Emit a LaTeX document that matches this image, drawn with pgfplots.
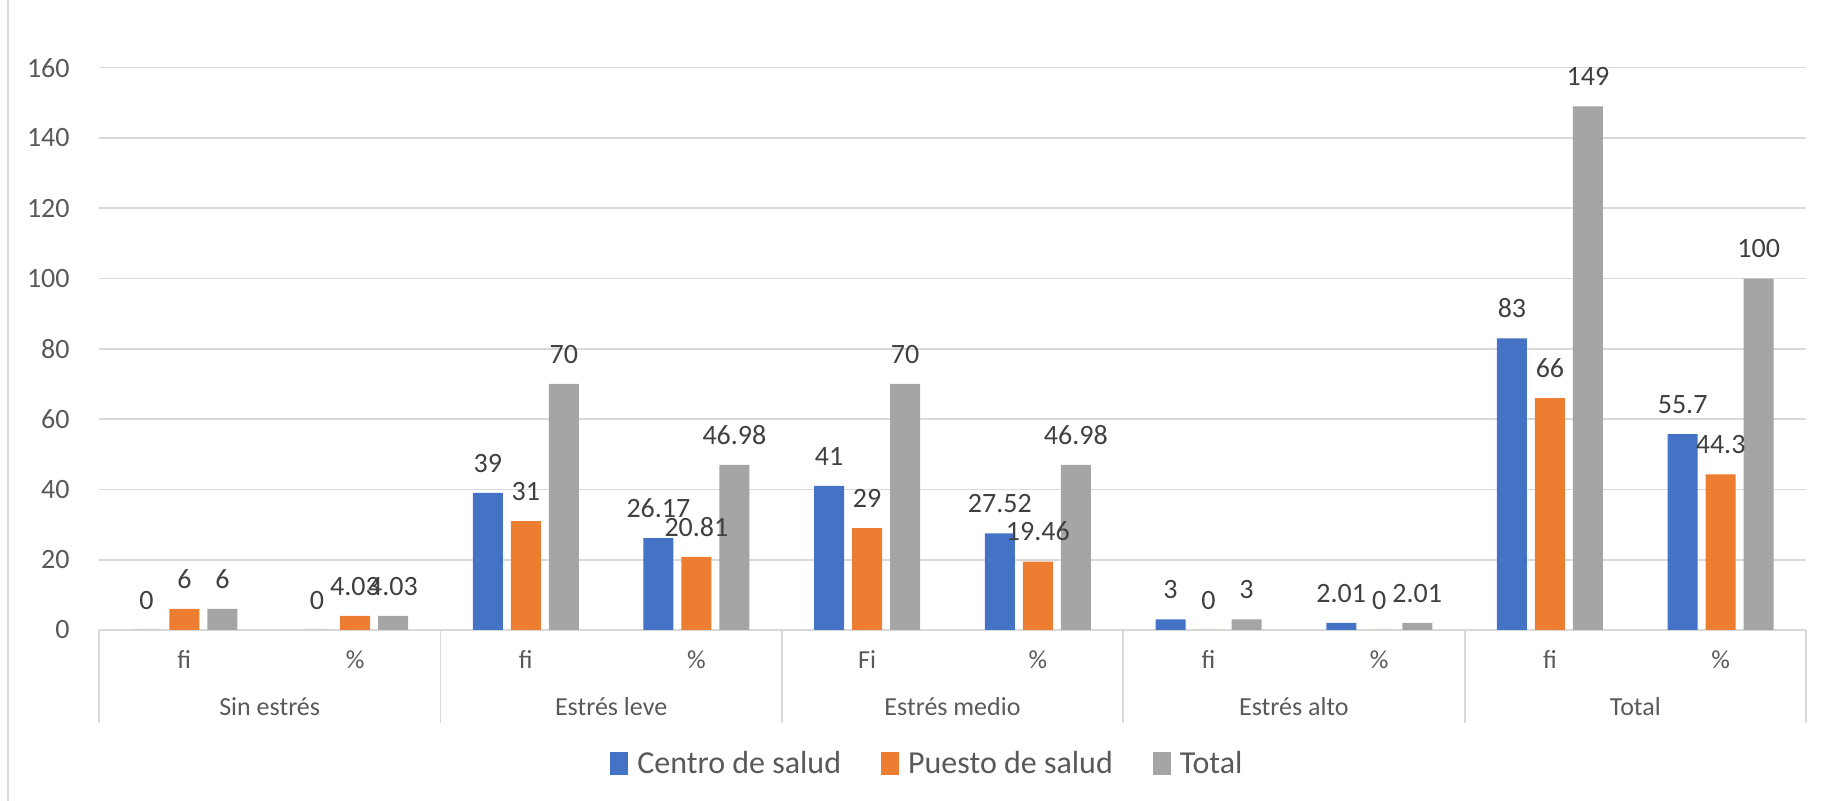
\documentclass[border=0pt]{standalone}
\usepackage{fontspec}
\setmainfont{Carlito}
\usepackage{pgfplots}
\pgfplotsset{compat=1.18}
\definecolor{cblue}{HTML}{4472C4}
\definecolor{corange}{HTML}{ED7D31}
\definecolor{cgray}{HTML}{A5A5A5}
\definecolor{gridc}{HTML}{D9D9D9}
\definecolor{tickc}{HTML}{595959}
\definecolor{labc}{HTML}{404040}
\pgfplotsset{sqleg/.style={legend image code/.code={\fill[##1] (0pt,-5.75pt) rectangle (9pt,5.75pt); \path (11.5pt,0pt);}}}
\begin{document}
\begin{tikzpicture}
\path[use as bounding box] (-49.5pt,-85.5pt) rectangle (865pt,315pt);
\draw[gridc, line width=0.9pt] (-45.5pt,-85.5pt) -- (-45.5pt,315pt);
\begin{axis}[
  at={(0,0)}, anchor=south west,
  scale only axis, width=853.5pt, height=281.15pt,
  xmin=-0.5, xmax=9.5, ymin=0, ymax=160,
  ybar=4pt, bar width=15pt,
  clip=false,
  axis x line*=bottom, axis y line*=left,
  y axis line style={draw=none},
  x axis line style={draw=gridc, line width=0.9pt},
  major tick length=0pt,
  ytick={0,20,...,160},
  ymajorgrids, grid style={gridc, line width=0.8pt},
  xtick={0,...,9},
  xticklabels={fi,\%,fi,\%,Fi,\%,fi,\%,fi,\%},
  xticklabel style={anchor=base, inner sep=0pt, yshift=-19.5pt, font=\fontsize{13}{15}\selectfont, text=tickc},
  yticklabel style={anchor=east, inner sep=0pt, xshift=-14.5pt, font=\fontsize{14}{16}\selectfont, text=tickc},
  /pgf/number format/assume math mode=true,
  nodes near coords,
  every node near coord/.append style={font=\fontsize{14}{16}\selectfont, text=labc, inner sep=2pt, yshift=8pt},
  legend columns=3,
  legend style={at={(0.4859,-0.2383)}, anchor=center, draw=none, font=\fontsize{16}{19}\selectfont, text=tickc,
    /tikz/every even column/.append style={column sep=18pt}},
]
\addplot[fill=cblue, draw=none, sqleg] coordinates {
(0,0) (1,0) (2,39) (3,26.17) (4,41) (5,27.52) (6,3) (7,2.01) (8,83) (9,55.7)};
\addlegendentry{Centro de salud}
\addplot[fill=corange, draw=none, sqleg] coordinates {
(0,6) (1,4.03) (2,31) (3,20.81) (4,29) (5,19.46) (6,0) (7,0) (8,66) (9,44.3)};
\addlegendentry{Puesto de salud}
\addplot[fill=cgray, draw=none, sqleg] coordinates {
(0,6) (1,4.03) (2,70) (3,46.98) (4,70) (5,46.98) (6,3) (7,2.01) (8,149) (9,100)};
\addlegendentry{Total}
\foreach \s in {-0.5,1.5,3.5,5.5,7.5,9.5}{
  \edef\tmp{\noexpand\draw[gridc, line width=0.9pt] (axis cs:\s,0) -- ++(0pt,-46.5pt);}\tmp
}
\node[font=\fontsize{13}{15}\selectfont, text=tickc, anchor=base, yshift=-43pt] at (axis cs:0.5,0) {Sin estrés};
\node[font=\fontsize{13}{15}\selectfont, text=tickc, anchor=base, yshift=-43pt] at (axis cs:2.5,0) {Estrés leve};
\node[font=\fontsize{13}{15}\selectfont, text=tickc, anchor=base, yshift=-43pt] at (axis cs:4.5,0) {Estrés medio};
\node[font=\fontsize{13}{15}\selectfont, text=tickc, anchor=base, yshift=-43pt] at (axis cs:6.5,0) {Estrés alto};
\node[font=\fontsize{13}{15}\selectfont, text=tickc, anchor=base, yshift=-43pt] at (axis cs:8.5,0) {Total};
\end{axis}
\end{tikzpicture}
\end{document}
